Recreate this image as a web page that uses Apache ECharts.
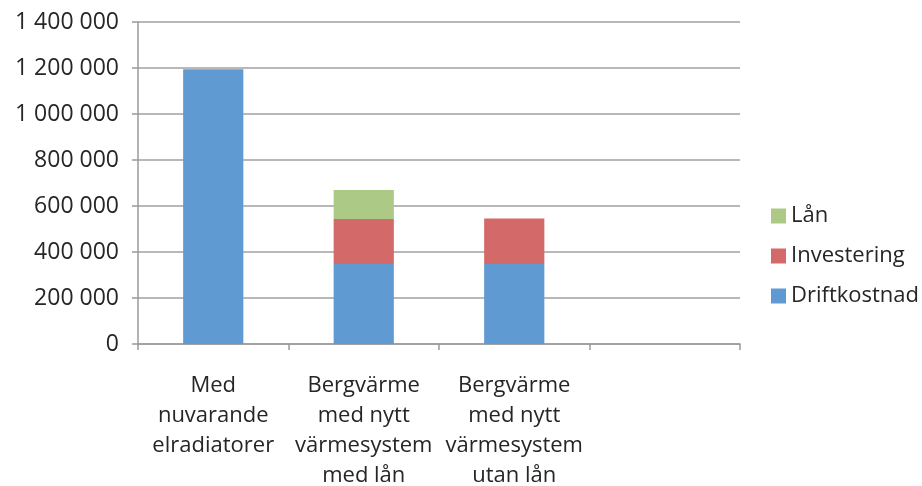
<!DOCTYPE html>
<html>
<head>
<meta charset="utf-8">
<script src="https://cdn.jsdelivr.net/npm/echarts@6/dist/echarts.min.js"></script>
<style>
  html, body { margin: 0; padding: 0; background: #fff; }
  #chart { width: 922px; height: 486px; }
</style>
</head>
<body>
<div id="chart"></div>
<script>
const categories = ['Med\nnuvarande\nelradiatorer', 'Bergvärme\nmed nytt\nvärmesystem\nmed lån', 'Bergvärme\nmed nytt\nvärmesystem\nutan lån', '']
const driftkostnad = [1195000, 348000, 348000, null]
const investering = [null, 195000, 198000, null]
const lan = [null, 127000, null, null]

const colors = { drift: '#5f9ad2', inv: '#d4696a', lan: '#acc985' }
const font = '"Open Sans", "Noto Sans", sans-serif'
const textColor = '#262626'

const chart = echarts.init(document.getElementById('chart'))

chart.setOption({
  animation: false,
  grid: { left: 138, right: 182, top: 22, bottom: 142, containLabel: false, outerBoundsMode: 'none' },
  legend: {
    orient: 'vertical',
    left: 766,
    top: 200,
    itemWidth: 15,
    itemHeight: 15,
    itemGap: 18,
    icon: 'rect',
    data: ['Lån', 'Investering', 'Driftkostnad'],
    textStyle: { color: textColor, fontSize: 22, lineHeight: 22, fontFamily: font },
  },
  xAxis: {
    type: 'category',
    data: categories,
    axisLine: { lineStyle: { color: '#9a9a9a', width: 1.5 } },
    axisTick: { show: true, interval: 0, length: 6, lineStyle: { color: '#9a9a9a', width: 1.5 } },
    axisLabel: {
      interval: 0,
      margin: 27,
      color: textColor,
      fontSize: 22,
      lineHeight: 30,
      fontFamily: font,
    },
  },
  yAxis: {
    type: 'value',
    min: 0,
    max: 1400000,
    interval: 200000,
    axisLine: { show: true, lineStyle: { color: '#9a9a9a', width: 1.5 } },
    axisTick: { show: true, length: 6, lineStyle: { color: '#9a9a9a', width: 1.5 } },
    splitLine: { lineStyle: { color: '#a0a0a0', width: 1.5 } },
    axisLabel: {
      margin: 19,
      color: textColor,
      fontSize: 23,
      fontFamily: font,
      formatter: (v) => String(v).replace(/\B(?=(\d{3})+(?!\d))/g, ' '),
    },
  },
  series: [
    { name: 'Driftkostnad', type: 'bar', stack: 'tot', data: driftkostnad, barWidth: '40%', itemStyle: { color: colors.drift } },
    { name: 'Investering', type: 'bar', stack: 'tot', data: investering, barWidth: '40%', itemStyle: { color: colors.inv } },
    { name: 'Lån', type: 'bar', stack: 'tot', data: lan, barWidth: '40%', itemStyle: { color: colors.lan } },
  ],
})
</script>
</body>
</html>
